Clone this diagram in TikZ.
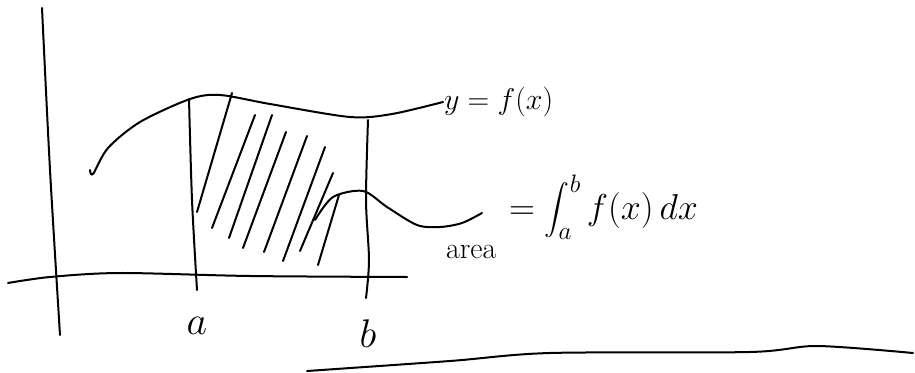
\RequirePackage{fix-cm}
\documentclass[tikz,border=0pt]{standalone}
\usepackage{amsmath}
\usepackage{fontspec}
\begin{document}
\begin{tikzpicture}[
    x=1pt, y=-1pt,
    pen/.style={line width=2pt, line cap=round, line join=round},
    lbl/.style={inner sep=0pt, font=\fontsize{30}{32}\selectfont},
    tick/.style={inner sep=0pt, font=\fontsize{40}{42}\selectfont},
    pen
  ]
  \useasboundingbox (0,0) rectangle (915,372);
  \node[lbl, anchor=west] (fx) at (443,102) {$y=f(x)$};
  \node[lbl, anchor=base west, font=\fontsize{30}{32}\selectfont] (area) at (445,258) {area};
  \node[lbl, anchor=west, font=\fontsize{36}{38}\selectfont] (integral) at (508,207) {$=\displaystyle\int_a^b f(x)\,dx$};
  \node[tick] (a) at (197,326) {$a$};
  \node[tick] (b) at (368,334) {$b$};
  \coordinate (hump) at (315,220);
  \coordinate (tail) at (482,213);
  \draw plot[smooth] coordinates {(42,8) (50,170) (60,335)};
  \draw plot[smooth] coordinates {(8,283) (50,277) (120,273) (250,276) (407,277)};
  \draw plot[smooth] coordinates {(90,170) (93,174) (108,148) (140,122) (190,99)
    (220,95) (270,104) (350,117) (392,114) (fx.west)};
  \draw plot[smooth] coordinates {(189,99) (192,200) (197,290)};
  \draw plot[smooth] coordinates {(368,120) (366,200) (369,260) (366,298)};
  \foreach \tx/\ty/\bx/\by in {232/93/197/212, 255/115/212/228, 272/115/229/238,
      286/132/243/248, 307/136/264/252, 325/147/283/261, 333/173/300/251, 339/195/318/265}
    \draw (\tx,\ty) -- (\bx,\by);
  \draw plot[smooth] coordinates {(hump) (333,197) (363,191) (387,207) (417,225)
    (440,227) (462,223) (tail)};
  \draw plot[smooth] coordinates {(307,371) (450,361) (550,353) (750,352) (817,346) (913,353)};
\end{tikzpicture}
\end{document}
